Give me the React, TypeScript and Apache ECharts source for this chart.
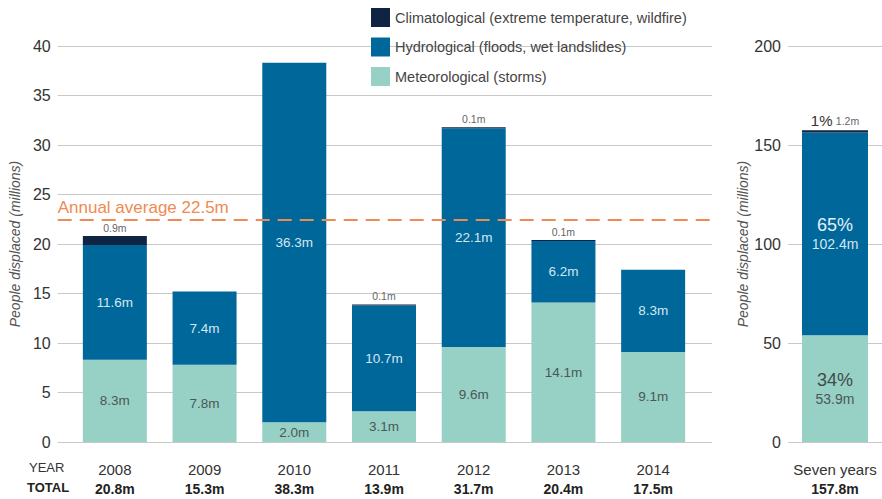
import React, { useEffect, useRef } from "react";
import * as echarts from "echarts";

const years = ["2008", "2009", "2010", "2011", "2012", "2013", "2014"];
const meteorological = [8.3, 7.8, 2.0, 3.1, 9.6, 14.1, 9.1];
const hydrological = [11.6, 7.4, 36.3, 10.7, 22.1, 6.2, 8.3];
const climatological = [0.9, 0, 0, 0.1, 0.1, 0.1, 0];
const yearTotals = [20.8, 15.3, 38.3, 13.9, 31.7, 20.4, 17.5];
const annualAverage = 22.5;

const periodLabel = ["Seven years"];
const periodMeteorological = [53.9];
const periodHydrological = [102.4];
const periodClimatological = [1.2];
const periodPercent = { met: [34], hyd: [65], cli: [1] };
const periodTotals = [157.8];

const NAMES = {
  cli: "Climatological (extreme temperature, wildfire)",
  hyd: "Hydrological (floods, wet landslides)",
  met: "Meteorological (storms)",
};
const COLORS = { cli: "#0f2442", hyd: "#00679b", met: "#97d0c4" };
const FONT = "Liberation Sans";

export default function App() {
  const ref = useRef<HTMLDivElement>(null);
  useEffect(() => {
    if (!ref.current) return;
    const chart = echarts.init(ref.current, null, { renderer: "svg" });
    const axisNameStyle = { fontStyle: "italic", fontSize: 14, color: "#555", fontFamily: FONT };
    const axisLabelStyle = { color: "#333", fontSize: 16, margin: 7, fontFamily: FONT };
    const splitLine = { show: true, lineStyle: { color: "#c8c8c8", width: 1 } };
    const xRich = {
      y: { fontSize: 15, color: "#333", lineHeight: 20, fontFamily: FONT },
      t: { fontSize: 14, color: "#222", fontWeight: "bold", lineHeight: 20, fontFamily: FONT },
    };
    const option: any = {
      animation: false,
      textStyle: { fontFamily: FONT },
      legend: {
        orient: "vertical",
        left: 371,
        top: 8,
        padding: 0,
        itemWidth: 19,
        itemHeight: 19,
        itemGap: 10.5,
        icon: "rect",
        data: [NAMES.cli, NAMES.hyd, NAMES.met],
        textStyle: { fontSize: 14.5, color: "#444", fontFamily: FONT },
        selectedMode: false,
      },
      grid: [
        { left: 57, right: 170, top: 46, bottom: 57 },
        { left: 70, right: 184, top: 46, bottom: 57 },
        { left: 788, right: 0, top: 46, bottom: 57 },
      ],
      xAxis: [
        { gridIndex: 0, type: "value", min: 0, max: 1, show: false },
        {
          gridIndex: 1,
          type: "category",
          data: years,
          axisLine: { show: false },
          axisTick: { show: false },
          axisLabel: {
            margin: 17,
            formatter: (v: string, i: number) => `{y|${v}}\n{t|${yearTotals[i].toFixed(1)}m}`,
            rich: xRich,
          },
        },
        {
          gridIndex: 2,
          type: "category",
          data: periodLabel,
          axisLine: { show: false },
          axisTick: { show: false },
          axisLabel: {
            margin: 17,
            formatter: (v: string, i: number) => `{y|${v}}\n{t|${periodTotals[i].toFixed(1)}m}`,
            rich: xRich,
          },
        },
      ],
      yAxis: [
        {
          gridIndex: 0,
          type: "value",
          min: 0,
          max: 40,
          interval: 5,
          axisLine: { show: false },
          axisTick: { show: false },
          axisLabel: axisLabelStyle,
          splitLine,
          name: "People displaced (millions)",
          nameLocation: "middle",
          nameRotate: 90,
          nameGap: 32,
          nameTextStyle: axisNameStyle,
        },
        { gridIndex: 1, type: "value", min: 0, max: 40, interval: 5, show: false, splitLine: { show: false } },
        {
          gridIndex: 2,
          type: "value",
          min: 0,
          max: 200,
          interval: 50,
          axisLine: { show: false },
          axisTick: { show: false },
          axisLabel: axisLabelStyle,
          splitLine,
          name: "People displaced (millions)",
          nameLocation: "middle",
          nameRotate: 90,
          nameGap: 36,
          nameTextStyle: axisNameStyle,
        },
      ],
      graphic: [
        {
          type: "text",
          left: 29,
          top: 461,
          style: { text: "YEAR", fontSize: 13, fill: "#333", fontFamily: FONT },
        },
        {
          type: "text",
          left: 27,
          top: 481,
          style: { text: "TOTAL", fontSize: 13, fill: "#222", fontWeight: "bold", fontFamily: FONT },
        },
      ],
      series: [
        {
          type: "line",
          xAxisIndex: 0,
          yAxisIndex: 0,
          data: [],
          silent: true,
          markLine: {
            silent: true,
            symbol: ["none", "none"],
            lineStyle: { color: "#f08a52", width: 2, type: [14, 8] },
            label: {
              position: "insideStartTop",
              formatter: `Annual average ${annualAverage}m`,
              color: "#f08a52",
              fontSize: 17,
              distance: [0, 3],
              fontFamily: FONT,
            },
            data: [{ yAxis: annualAverage }],
          },
        },
        {
          name: NAMES.met,
          type: "bar",
          xAxisIndex: 1,
          yAxisIndex: 1,
          stack: "years",
          barWidth: 64,
          itemStyle: { color: COLORS.met },
          label: {
            show: true,
            position: "inside",
            color: "#4a5857",
            fontSize: 13.5,
            formatter: (p: any) => `${p.value.toFixed(1)}m`,
          },
          data: meteorological,
        },
        {
          name: NAMES.hyd,
          type: "bar",
          xAxisIndex: 1,
          yAxisIndex: 1,
          stack: "years",
          barWidth: 64,
          itemStyle: { color: COLORS.hyd },
          label: {
            show: true,
            position: "inside",
            color: "#d4e6ef",
            fontSize: 13.5,
            formatter: (p: any) => `${p.value.toFixed(1)}m`,
          },
          data: hydrological,
        },
        {
          name: NAMES.cli,
          type: "bar",
          xAxisIndex: 1,
          yAxisIndex: 1,
          stack: "years",
          barWidth: 64,
          itemStyle: { color: COLORS.cli },
          label: {
            show: true,
            position: "top",
            distance: 3,
            color: "#666",
            fontSize: 10.5,
            formatter: (p: any) => (p.value > 0 ? `${p.value.toFixed(1)}m` : ""),
          },
          data: climatological,
        },
        {
          name: NAMES.met,
          type: "bar",
          xAxisIndex: 2,
          yAxisIndex: 2,
          stack: "period",
          barWidth: 66,
          itemStyle: { color: COLORS.met },
          label: {
            show: true,
            position: "inside",
            formatter: (p: any) =>
              `{p|${periodPercent.met[p.dataIndex]}%}\n{v|${p.value.toFixed(1)}m}`,
            rich: {
              p: { fontSize: 18, color: "#3e4c4b", lineHeight: 21 },
              v: { fontSize: 14, color: "#4a5857", lineHeight: 18 },
            },
          },
          data: periodMeteorological,
        },
        {
          name: NAMES.hyd,
          type: "bar",
          xAxisIndex: 2,
          yAxisIndex: 2,
          stack: "period",
          barWidth: 66,
          itemStyle: { color: COLORS.hyd },
          label: {
            show: true,
            position: "inside",
            formatter: (p: any) =>
              `{p|${periodPercent.hyd[p.dataIndex]}%}\n{v|${p.value.toFixed(1)}m}`,
            rich: {
              p: { fontSize: 18, color: "#e4f0f6", lineHeight: 21 },
              v: { fontSize: 14, color: "#d4e6ef", lineHeight: 18 },
            },
          },
          data: periodHydrological,
        },
        {
          name: NAMES.cli,
          type: "bar",
          xAxisIndex: 2,
          yAxisIndex: 2,
          stack: "period",
          barWidth: 66,
          itemStyle: { color: COLORS.cli },
          label: {
            show: true,
            position: "top",
            distance: 2,
            formatter: (p: any) =>
              `{p|${periodPercent.cli[p.dataIndex]}%} {v|${p.value.toFixed(1)}m}`,
            rich: {
              p: { fontSize: 15, color: "#333" },
              v: { fontSize: 10.5, color: "#666" },
            },
          },
          data: periodClimatological,
        },
      ],
    };
    chart.setOption(option);
    return () => chart.dispose();
  }, []);
  return <div ref={ref} style={{ width: 882, height: 499, position: "absolute", left: 0, top: 0 }} />;
}
